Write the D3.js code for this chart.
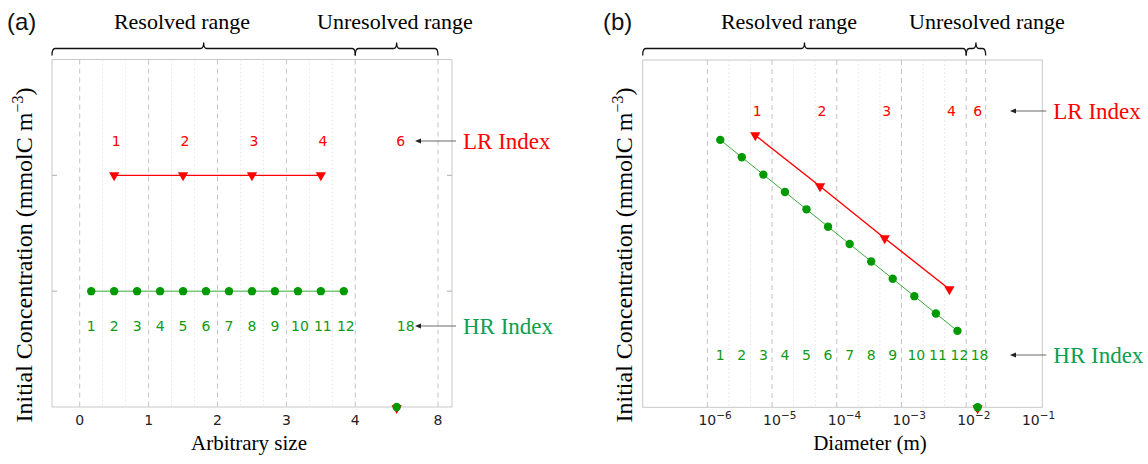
<!DOCTYPE html>
<html>
<head>
<meta charset="utf-8">
<script src="https://cdn.jsdelivr.net/npm/d3@7"></script>
<style>
  body { margin: 0; background: #fff; }
  .serif { font-family: "Liberation Serif", "Times New Roman", serif; }
  .sans { font-family: "DejaVu Sans", sans-serif; }
</style>
</head>
<body>
<div id="chart"></div>
<script>
// data
var hrIndex = [1, 2, 3, 4, 5, 6, 7, 8, 9, 10, 11, 12];
var lrIndex = [1, 2, 3, 4];
var hrUnresolvedIndex = 18;
var lrUnresolvedIndex = 6;

// panel (a): arbitrary size
var hrSize = [0.167, 0.5, 0.833, 1.167, 1.5, 1.833, 2.167, 2.5, 2.833, 3.167, 3.5, 3.833];
var lrSize = [0.5, 1.5, 2.5, 3.5];
var unresolvedSize = 6;
var hrConcA = [1, 1, 1, 1, 1, 1, 1, 1, 1, 1, 1, 1];
var lrConcA = [2, 2, 2, 2];
var sizeTicks = [0, 1, 2, 3, 4, 8];
var sizeEdgesHR = [0.333, 0.667, 1.333, 1.667, 2.333, 2.667, 3.333, 3.667];

// panel (b): diameter (m)
var hrDiam = [1.58e-6, 3.40e-6, 7.32e-6, 1.58e-5, 3.40e-5, 7.32e-5, 1.58e-4, 3.40e-4, 7.32e-4, 1.58e-3, 3.40e-3, 7.32e-3];
var lrDiam = [5.5e-6, 5.5e-5, 5.5e-4, 5.5e-3];
var unresolvedDiam = 0.015;
var hrConcB = [2.31, 2.16, 2.01, 1.86, 1.71, 1.56, 1.41, 1.26, 1.11, 0.96, 0.81, 0.66];
var lrConcB = [2.35, 1.91, 1.46, 1.02];
var diamTicks = [1e-6, 1e-5, 1e-4, 1e-3, 1e-2, 1e-1];
var diamTickExp = ["\u22126", "\u22125", "\u22124", "\u22123", "\u22122", "\u22121"];
var diamEdgesLR = [1e-6, 1e-5, 1e-4, 1e-3, 1e-2, 2e-2];
var diamEdgesHR = [2.15e-6, 4.64e-6, 2.15e-5, 4.64e-5, 2.15e-4, 4.64e-4, 2.15e-3, 4.64e-3];

var unresolvedConc = 0;

var RED = "#ff0000";
var GREEN = "#009a00";
var GREEN_TXT = "#0aa050";

var svg = d3.select("#chart").append("svg")
  .attr("width", 1148)
  .attr("height", 464);

function drawPanel(p) {
  var g = svg.append("g");
  var x = p.x, y = p.y;

  // frame
  g.append("rect")
    .attr("x", p.left).attr("y", p.top)
    .attr("width", p.right - p.left).attr("height", p.bottom - p.top)
    .attr("fill", "none").attr("stroke", "#c8c8c8").attr("stroke-width", 1);

  // minor grid (HR bins)
  g.selectAll(".minor").data(p.minorEdges).enter().append("line")
    .attr("x1", d => x(d)).attr("x2", d => x(d))
    .attr("y1", p.top).attr("y2", p.bottom)
    .attr("stroke", "#e4e4e4").attr("stroke-dasharray", "2,2").attr("stroke-width", 0.8);

  // major grid (LR bins)
  g.selectAll(".major").data(p.majorEdges).enter().append("line")
    .attr("x1", d => x(d)).attr("x2", d => x(d))
    .attr("y1", p.top).attr("y2", p.bottom)
    .attr("stroke", "#c4c4c4").attr("stroke-dasharray", "5,4").attr("stroke-width", 1);

  // y ticks (inward, both sides)
  p.yTicks.forEach(function (t) {
    g.append("line").attr("x1", p.left).attr("x2", p.left + 5)
      .attr("y1", y(t)).attr("y2", y(t)).attr("stroke", "#b0b0b0");
    g.append("line").attr("x1", p.right - 5).attr("x2", p.right)
      .attr("y1", y(t)).attr("y2", y(t)).attr("stroke", "#b0b0b0");
  });

  // x tick labels
  var tl = g.selectAll(".tick").data(p.xTicks).enter().append("text")
    .attr("class", "sans")
    .attr("x", d => x(d))
    .attr("y", p.bottom + 18)
    .attr("font-size", 14)
    .attr("fill", "#222");
  p.tickText(tl);

  // x axis title
  g.append("text").attr("class", "serif")
    .attr("x", p.xTitleX).attr("y", p.bottom + 43)
    .attr("text-anchor", "middle").attr("font-size", 21)
    .text(p.xTitle);

  // y axis title
  var yt = g.append("text").attr("class", "serif")
    .attr("transform", "translate(" + p.yTitleX + ",255)rotate(-90)")
    .attr("text-anchor", "middle").attr("font-size", 24);
  yt.append("tspan").text("Initial Concentration (mmolC m");
  yt.append("tspan").attr("font-size", 16).attr("dy", -9).text("\u22123");
  yt.append("tspan").attr("dy", 9).text(")");

  // connecting lines
  var line = d3.line().x(d => x(d[0])).y(d => y(d[1]));
  g.append("path").datum(d3.zip(p.lrX, p.lrY))
    .attr("d", line).attr("fill", "none").attr("stroke", RED).attr("stroke-width", 1.4);
  g.append("path").datum(d3.zip(p.hrX, p.hrY))
    .attr("d", line).attr("fill", "none").attr("stroke", "#3aaa3a").attr("stroke-width", 1);

  var tri = d3.symbol().type(d3.symbolTriangle).size(46);

  // LR triangles (pointing down)
  g.selectAll(".lr").data(d3.zip(p.lrX, p.lrY)).enter().append("path")
    .attr("d", tri)
    .attr("transform", d => "translate(" + x(d[0]) + "," + y(d[1]) + ")rotate(180)")
    .attr("fill", RED);

  // HR circles
  g.selectAll(".hr").data(d3.zip(p.hrX, p.hrY)).enter().append("circle")
    .attr("cx", d => x(d[0])).attr("cy", d => y(d[1])).attr("r", 4.2)
    .attr("fill", GREEN);

  // unresolved point: triangle under circle
  g.append("path").attr("d", tri)
    .attr("transform", "translate(" + x(p.unresX) + "," + (y(unresolvedConc) + 1) + ")rotate(180)")
    .attr("fill", RED);
  g.append("circle").attr("cx", x(p.unresX)).attr("cy", y(unresolvedConc)).attr("r", 4.2)
    .attr("fill", GREEN);

  // index labels
  g.selectAll(".lrl").data(lrIndex).enter().append("text").attr("class", "sans")
    .attr("x", (d, i) => x(p.lrX[i]) + 2).attr("y", p.lrLabelY)
    .attr("text-anchor", "middle").attr("font-size", 14).attr("fill", RED)
    .text(d => d);
  g.append("text").attr("class", "sans")
    .attr("x", x(p.unresX) + p.unresDx[0]).attr("y", p.lrLabelY)
    .attr("text-anchor", "middle").attr("font-size", 14).attr("fill", RED)
    .text(lrUnresolvedIndex);

  g.selectAll(".hrl").data(hrIndex).enter().append("text").attr("class", "sans")
    .attr("x", (d, i) => x(p.hrX[i]) + (d > 9 ? 2 : 0)).attr("y", p.hrLabelY)
    .attr("text-anchor", "middle").attr("font-size", 14).attr("fill", "#139a13")
    .text(d => d);
  g.append("text").attr("class", "sans")
    .attr("x", x(p.unresX) + p.unresDx[1]).attr("y", p.hrLabelY)
    .attr("text-anchor", "middle").attr("font-size", 14).attr("fill", "#139a13")
    .text(hrUnresolvedIndex);

  // arrows + legend words
  [[p.lrLabelY, "LR Index", RED], [p.hrLabelY, "HR Index", GREEN_TXT]].forEach(function (a) {
    var yy = a[0] - 5;
    g.append("line")
      .attr("x1", p.right + 4).attr("x2", p.arrowTip + 5)
      .attr("y1", yy).attr("y2", yy)
      .attr("stroke", "#444").attr("stroke-width", 0.8);
    g.append("path")
      .attr("d", "M" + p.arrowTip + "," + yy + "l6,-2.5l0,5z")
      .attr("fill", "#222");
    g.append("text").attr("class", "serif")
      .attr("x", p.right + 11).attr("y", yy + 8)
      .attr("font-size", 23).attr("fill", a[2])
      .text(a[1]);
  });

  // range braces
  function brace(x0, x1, yy) {
    var xm = (x0 + x1) / 2;
    var d = "M" + x0 + "," + (yy + 7) + "Q" + x0 + "," + yy + " " + (x0 + 3) + "," + yy +
      "L" + (xm - 3) + "," + yy + "Q" + xm + "," + yy + " " + xm + "," + (yy - 6) +
      "Q" + xm + "," + yy + " " + (xm + 3) + "," + yy +
      "L" + (x1 - 3) + "," + yy + "Q" + x1 + "," + yy + " " + x1 + "," + (yy + 7);
    g.append("path").attr("d", d).attr("fill", "none").attr("stroke", "#111").attr("stroke-width", 1.3);
  }
  brace(p.left, x(p.resolvedEnd), 48.5);
  brace(x(p.resolvedEnd), x(p.unresolvedEnd), 48.5);

  g.append("text").attr("class", "serif")
    .attr("x", p.resolvedTextX).attr("y", 29)
    .attr("text-anchor", "middle").attr("font-size", 22)
    .text("Resolved range");
  g.append("text").attr("class", "serif")
    .attr("x", p.unresolvedTextX).attr("y", 29)
    .attr("text-anchor", "middle").attr("font-size", 22)
    .text("Unresolved range");

  g.append("text")
    .attr("x", p.tagX).attr("y", 30)
    .attr("font-family", "Liberation Sans, Arial, sans-serif")
    .attr("font-size", 24).attr("fill", "#111")
    .text(p.tag);
}

// panel (a)
var xA = d3.scaleLinear().domain([0, 4, 8]).range([79.7, 355.3, 438]);
var yA = d3.scaleLinear().domain([0, 3]).range([407, 59.5]);
drawPanel({
  left: 52, right: 452, top: 59.5, bottom: 407,
  x: xA, y: yA,
  majorEdges: sizeTicks, minorEdges: sizeEdgesHR,
  yTicks: [1, 2],
  xTicks: sizeTicks,
  tickText: function (sel) { sel.attr("text-anchor", "middle").text(d => d); },
  xTitle: "Arbitrary size", xTitleX: 249,
  yTitleX: 32,
  lrX: lrSize, lrY: lrConcA, hrX: hrSize, hrY: hrConcA,
  unresX: unresolvedSize, unresDx: [4, 9],
  lrLabelY: 146, hrLabelY: 331,
  arrowTip: 415,
  resolvedEnd: 4, unresolvedEnd: 8,
  resolvedTextX: 182, unresolvedTextX: 395,
  tag: "(a)", tagX: 7
});

// panel (b)
var xB = d3.scaleLog().domain([1e-7, 0.15]).range([642.7, 1042.3]);
var yB = d3.scaleLinear().domain([0, 3]).range([407.3, 60]);
drawPanel({
  left: 642.7, right: 1042.3, top: 60, bottom: 407.3,
  x: xB, y: yB,
  majorEdges: diamEdgesLR, minorEdges: diamEdgesHR,
  yTicks: [],
  xTicks: diamTicks,
  tickText: function (sel) {
    sel.attr("text-anchor", "start").attr("dx", -9);
    sel.append("tspan").text("10");
    sel.append("tspan").attr("font-size", 10.5).attr("dy", -6).text((d, i) => diamTickExp[i]);
  },
  xTitle: "Diameter (m)", xTitleX: 870,
  yTitleX: 632,
  lrX: lrDiam, lrY: lrConcB, hrX: hrDiam, hrY: hrConcB,
  unresX: unresolvedDiam, unresDx: [0, 2],
  lrLabelY: 116, hrLabelY: 360,
  arrowTip: 1010,
  resolvedEnd: 1e-2, unresolvedEnd: 2e-2,
  resolvedTextX: 789, unresolvedTextX: 987,
  tag: "(b)", tagX: 603
});
</script>
</body>
</html>
